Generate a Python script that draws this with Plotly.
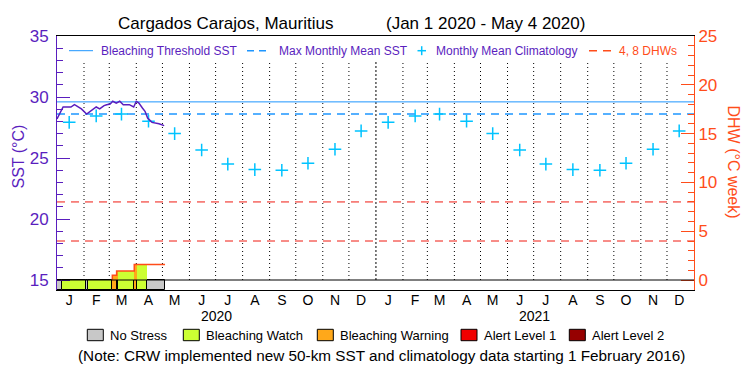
import plotly.graph_objects as go
import pandas as pd

# ---------------- data ----------------
TITLE_SITE = "Cargados Carajos, Mauritius"
TITLE_RANGE = "(Jan 1 2020 - May 4 2020)"

SST_DATES = ["2020-01-01", "2020-01-03", "2020-01-07", "2020-01-08", "2020-01-17",
             "2020-01-21", "2020-01-23", "2020-01-29", "2020-02-04", "2020-02-09",
             "2020-02-15", "2020-02-19", "2020-02-24", "2020-02-27", "2020-03-02",
             "2020-03-05", "2020-03-09", "2020-03-13", "2020-03-17", "2020-03-24",
             "2020-03-29", "2020-04-01", "2020-04-04", "2020-04-08", "2020-04-11",
             "2020-04-14", "2020-04-19", "2020-04-27", "2020-05-03"]
SST_VALUES = [28.20, 28.47, 29.10, 29.18, 29.18,
              29.37, 29.30, 29.02, 28.60, 28.83,
              29.18, 29.02, 29.29, 29.37, 29.43,
              29.65, 29.50, 29.65, 29.37, 29.37,
              29.18, 29.65, 29.50, 29.10, 28.83,
              28.28, 27.92, 27.81, 27.65]

MONTH_LETTERS = ["J", "F", "M", "A", "M", "J", "J", "A", "S", "O", "N", "D"]
YEARS = [2020, 2021]
CLIM_VALUES = [27.92, 28.45, 28.60, 28.02, 27.00, 25.65, 24.50, 24.05, 24.00, 24.57, 25.72, 27.22]
MMM = 28.6
THRESHOLD = 29.6
DHW_LEVELS = [4, 8]

DHW_DATES = ["2020-03-04 12:00", "2020-03-04 12:00", "2020-03-09 10:00", "2020-03-29 16:00", "2020-05-04 00:00"]
DHW_VALUES = [0, 0.5, 0.92, 1.6, 1.6]

# stress level segments: 0 no stress, 1 watch, 2 warning, 3 alert 1, 4 alert 2
STRESS_START = ["2020-01-01 00:00", "2020-01-06 16:00", "2020-02-03 14:00", "2020-02-06 00:00",
                "2020-03-04 12:00", "2020-03-09 10:00", "2020-03-11 00:00", "2020-03-29 16:00",
                "2020-04-02 00:00", "2020-04-13 00:00"]
STRESS_END = ["2020-01-06 16:00", "2020-02-03 14:00", "2020-02-06 00:00", "2020-03-04 12:00",
              "2020-03-09 10:00", "2020-03-11 00:00", "2020-03-29 16:00", "2020-04-02 00:00",
              "2020-04-13 00:00", "2020-05-04 00:00"]
STRESS_LEVEL = [0, 1, 0, 1, 2, 2, 1, 2, 1, 0]
STRESS_DHW = [0, 0, 0, 0, 0.5, 0.92, 0.92, 1.6, 1.6, 1.6]

STRESS_NAMES = ["No Stress", "Bleaching Watch", "Bleaching Warning", "Alert Level 1", "Alert Level 2"]
NOTE = "(Note: CRW implemented new 50-km SST and climatology data starting 1 February 2016)"

# ---------------- style ----------------
FONT = "Liberation Sans"
PURPLE = "#5A1EBE"
ORANGE = "#FF4D1A"
BLUE = "#1E96FF"
CYAN = "#00C3FF"
RED_DASH = "#F01A10"
STRESS_COLORS = ["#C8C8C8", "#CCFF33", "#FFA81A", "#F00000", "#960000"]

SST_MIN, SST_MAX = 14.18, 35
DHW_MIN, DHW_MAX = -1.02, 25
STRIP_TOP = 15
VLINE_TOP = 33

W, H = 750, 375
L, R, T, B = 57, 56, 36, 85
PW, PH = W - L - R, H - T - B


def px(x):
    return (x - L) / PW


def py(y):
    return (H - B - y) / PH


def to_dt(lst):
    return pd.to_datetime(lst, format="%Y-%m-%d %H:%M")


X0 = pd.Timestamp("2020-01-01")
X1 = pd.Timestamp("2022-01-01")

fig = go.Figure()

# stress strip bars
s_start = to_dt(STRESS_START)
s_end = to_dt(STRESS_END)
mids = [s + (e - s) / 2 for s, e in zip(s_start, s_end)]
widths = [(e - s).total_seconds() * 1000 for s, e in zip(s_start, s_end)]

fill_idx = [i for i in range(len(STRESS_LEVEL)) if STRESS_LEVEL[i] > 0 and STRESS_DHW[i] > 0]
fig.add_trace(go.Bar(
    x=[mids[i] for i in fill_idx], y=[STRESS_DHW[i] for i in fill_idx],
    base=[0] * len(fill_idx), width=[widths[i] for i in fill_idx],
    marker=dict(color=[STRESS_COLORS[STRESS_LEVEL[i]] for i in fill_idx], line=dict(width=0)),
    yaxis="y2", showlegend=False, hoverinfo="skip"))

fig.add_trace(go.Bar(
    x=mids, y=[STRIP_TOP - SST_MIN] * len(mids), base=[SST_MIN] * len(mids),
    width=widths,
    marker=dict(color=[STRESS_COLORS[l] for l in STRESS_LEVEL], line=dict(color="black", width=1)),
    showlegend=False, hoverinfo="skip"))

# vertical month lines
month_starts = pd.date_range("2020-02-01", "2021-12-01", freq="MS")
vx, vy = [], []
yx, yy = [], []
for m in month_starts:
    if m.month == 1:
        yx += [m, m, None]
        yy += [STRIP_TOP, VLINE_TOP, None]
    else:
        vx += [m, m, None]
        vy += [STRIP_TOP, VLINE_TOP, None]
fig.add_trace(go.Scatter(x=vx, y=vy, mode="lines",
                         line=dict(color="black", width=1, dash="1px,3px"),
                         showlegend=False, hoverinfo="skip"))
fig.add_trace(go.Scatter(x=yx, y=yy, mode="lines",
                         line=dict(color="black", width=1, dash="2px,2px"),
                         showlegend=False, hoverinfo="skip"))

# DHW reference lines
for lev in DHW_LEVELS:
    fig.add_trace(go.Scatter(x=[X0, X1], y=[lev, lev], mode="lines", yaxis="y2",
                             line=dict(color=RED_DASH, width=1, dash="8px,6px"),
                             showlegend=False, hoverinfo="skip"))

# threshold & MMM
fig.add_trace(go.Scatter(x=[X0, X1], y=[THRESHOLD, THRESHOLD], mode="lines",
                         line=dict(color=BLUE, width=1), name="Bleaching Threshold SST",
                         showlegend=False))
fig.add_trace(go.Scatter(x=[X0, X1], y=[MMM, MMM], mode="lines",
                         line=dict(color=BLUE, width=1.5, dash="8px,6px"), name="Max Monthly Mean SST",
                         showlegend=False))

# climatology crosses
mid_months = list(pd.date_range("2020-01-01", periods=24, freq="MS") + pd.Timedelta(days=14))
fig.add_trace(go.Scatter(x=mid_months, y=CLIM_VALUES * len(YEARS), mode="markers",
                         marker=dict(symbol="cross-thin", size=9, line=dict(color=CYAN, width=1.5)),
                         name="Monthly Mean Climatology", showlegend=False))

# DHW line
fig.add_trace(go.Scatter(x=list(to_dt(DHW_DATES)), y=DHW_VALUES, mode="lines", yaxis="y2",
                         line=dict(color=ORANGE, width=1.5, shape="hv"),
                         name="DHW", showlegend=False))

# SST line
fig.add_trace(go.Scatter(x=list(pd.to_datetime(SST_DATES, format="%Y-%m-%d")), y=SST_VALUES, mode="lines",
                         line=dict(color=PURPLE, width=1.5), name="SST", showlegend=False))

shapes = []
annotations = []

# black line at top of strip
shapes.append(dict(type="line", xref="paper", x0=0, x1=1, yref="y", y0=STRIP_TOP, y1=STRIP_TOP,
                   line=dict(color="black", width=1), layer="above"))

# title
annotations.append(dict(text=TITLE_SITE, xref="paper", yref="paper", x=px(225), y=py(23),
                        showarrow=False, font=dict(family=FONT, size=17, color="black"),
                        xanchor="center", yanchor="middle"))
annotations.append(dict(text=TITLE_RANGE, xref="paper", yref="paper", x=px(485), y=py(23),
                        showarrow=False, font=dict(family=FONT, size=17, color="black"),
                        xanchor="center", yanchor="middle"))

# top legend
LY = 50.7
shapes.append(dict(type="line", xref="paper", yref="paper", x0=px(69), x1=px(93), y0=py(LY), y1=py(LY),
                   line=dict(color=BLUE, width=1)))
annotations.append(dict(text="Bleaching Threshold SST", xref="paper", yref="paper", x=px(99), y=py(LY),
                        showarrow=False, xanchor="left", yanchor="middle",
                        font=dict(family=FONT, size=12, color=PURPLE)))
shapes.append(dict(type="line", xref="paper", yref="paper", x0=px(247), x1=px(270), y0=py(LY), y1=py(LY),
                   line=dict(color=BLUE, width=1.5, dash="7px,5px")))
annotations.append(dict(text="Max Monthly Mean SST", xref="paper", yref="paper", x=px(277), y=py(LY),
                        showarrow=False, xanchor="left", yanchor="middle",
                        font=dict(family=FONT, size=12, color=PURPLE)))
shapes.append(dict(type="line", xref="paper", yref="paper", x0=px(417.5), x1=px(426), y0=py(LY), y1=py(LY),
                   line=dict(color=CYAN, width=1.5)))
shapes.append(dict(type="line", xref="paper", yref="paper", x0=px(421.7), x1=px(421.7), y0=py(LY - 4.5),
                   y1=py(LY + 4.5), line=dict(color=CYAN, width=1.5)))
annotations.append(dict(text="Monthly Mean Climatology", xref="paper", yref="paper", x=px(434), y=py(LY),
                        showarrow=False, xanchor="left", yanchor="middle",
                        font=dict(family=FONT, size=12, color=PURPLE)))
shapes.append(dict(type="line", xref="paper", yref="paper", x0=px(589), x1=px(612), y0=py(LY), y1=py(LY),
                   line=dict(color=ORANGE, width=1.5, dash="8px,6px")))
annotations.append(dict(text="4, 8 DHWs", xref="paper", yref="paper", x=px(617), y=py(LY),
                        showarrow=False, xanchor="left", yanchor="middle",
                        font=dict(family=FONT, size=12, color=ORANGE)))

# axis titles
annotations.append(dict(text="SST (°C)", xref="paper", yref="paper", x=px(17.5), y=py(157),
                        showarrow=False, textangle=-90, xanchor="center", yanchor="middle",
                        font=dict(family=FONT, size=16, color=PURPLE)))
annotations.append(dict(text="DHW (°C week)", xref="paper", yref="paper", x=px(733), y=py(161.5),
                        showarrow=False, textangle=90, xanchor="center", yanchor="middle",
                        font=dict(family=FONT, size=16, color=ORANGE)))

# year labels
for yr in YEARS:
    annotations.append(dict(text=str(yr), xref="x", yref="paper", x=pd.Timestamp(f"{yr}-07-02"), y=py(316),
                            showarrow=False, xanchor="center", yanchor="middle",
                            font=dict(family=FONT, size=14, color="black")))

# bottom stress legend
BOX_X = [87.3, 183.3, 317.3, 461.0, 569.3]
BY0, BY1 = 329.3, 340.7
for i, name in enumerate(STRESS_NAMES):
    shapes.append(dict(type="rect", xref="paper", yref="paper", x0=px(BOX_X[i]), x1=px(BOX_X[i] + 16),
                       y0=py(BY1), y1=py(BY0), fillcolor=STRESS_COLORS[i],
                       line=dict(color="black", width=1)))
    annotations.append(dict(text=name, xref="paper", yref="paper", x=px(BOX_X[i] + 21), y=py(335),
                            showarrow=False, xanchor="left", yanchor="middle",
                            font=dict(family=FONT, size=13, color="black")))

annotations.append(dict(text=NOTE, xref="paper", yref="paper", x=px(381), y=py(355.7), showarrow=False,
                        xanchor="center", yanchor="middle", font=dict(family=FONT, size=15.3, color="black")))

fig.update_layout(
    width=W, height=H,
    margin=dict(l=L, r=R, t=T, b=B, pad=0, autoexpand=False),
    paper_bgcolor="white", plot_bgcolor="white",
    barmode="overlay", bargap=0,
    showlegend=False,
    font=dict(family=FONT),
    xaxis=dict(type="date", range=[X0, X1], showgrid=False, zeroline=False, automargin=False,
               showline=True, linecolor="black", linewidth=1, mirror=True,
               ticks="", tickmode="array", tickvals=mid_months,
               ticktext=MONTH_LETTERS * len(YEARS), ticklabelstandoff=-3,
               tickfont=dict(family=FONT, size=14, color="black")),
    yaxis=dict(range=[SST_MIN, SST_MAX], showgrid=False, zeroline=False, automargin=False,
               showline=True, linecolor=PURPLE, linewidth=1,
               tickmode="array", tickvals=[15, 20, 25, 30, 35],
               ticks="inside", ticklen=13, tickcolor=PURPLE, tickwidth=1, ticklabelstandoff=4,
               minor=dict(tickmode="array", tickvals=[v for v in range(16, 35) if v % 5],
                          ticks="inside", ticklen=6, tickcolor=PURPLE, tickwidth=1),
               tickfont=dict(family=FONT, size=17, color=PURPLE)),
    yaxis2=dict(range=[DHW_MIN, DHW_MAX], overlaying="y", side="right", showgrid=False, zeroline=False,
                automargin=False,
                showline=True, linecolor=ORANGE, linewidth=1,
                tickmode="array", tickvals=[0, 5, 10, 15, 20, 25],
                ticks="inside", ticklen=13, tickcolor=ORANGE, tickwidth=1,
                minor=dict(tickmode="array", tickvals=[v for v in range(1, 25) if v % 5],
                           ticks="inside", ticklen=6, tickcolor=ORANGE, tickwidth=1),
                tickfont=dict(family=FONT, size=17, color=ORANGE)),
    shapes=shapes,
    annotations=annotations,
)

fig.write_html("out.html", config={"displayModeBar": False},
               post_script="document.body.style.margin='0';document.body.style.overflow='hidden';")
